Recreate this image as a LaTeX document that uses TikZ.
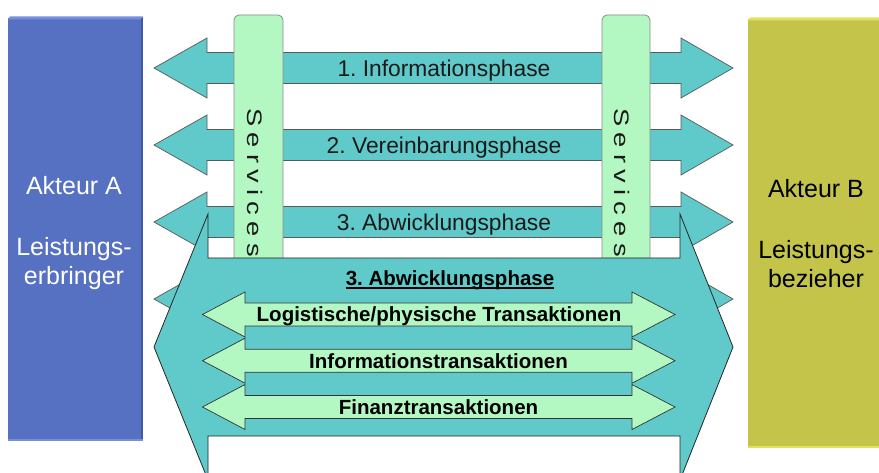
\documentclass[tikz,border=0pt]{standalone}
\usepackage{fontspec}
\usepackage{graphicx}
\setmainfont{Liberation Sans}
\frenchspacing

\definecolor{actorA}{HTML}{5670C2}
\definecolor{actorAlight}{HTML}{7890DC}
\definecolor{actorAdark}{HTML}{4058A6}
\definecolor{actorB}{HTML}{C4C44A}
\definecolor{actorBlight}{HTML}{E2E25A}
\definecolor{phaseteal}{HTML}{60C9C9}
\definecolor{paleleaf}{HTML}{B3F8C2}
\definecolor{inktext}{HTML}{1A1A1A}

% double-headed block arrow:
% #1 style, #2 left tip x, #3 left head base x, #4 right head base x,
% #5 right tip x, #6 centre y, #7 head half height, #8 shaft half height
\newcommand\twowayarrow[8]{%
  \filldraw[#1] (#2,#6) -- (#3,{#6-#7}) -- (#3,{#6-#8}) -- (#4,{#6-#8})
    -- (#4,{#6-#7}) -- (#5,#6) -- (#4,{#6+#7}) -- (#4,{#6+#8})
    -- (#3,{#6+#8}) -- (#3,{#6+#7}) -- cycle;}

\tikzset{
  phasearrow/.style={fill=phaseteal, draw=black!65, line width=0.7pt},
  bigarrow/.style={fill=phaseteal, draw=black!85, line width=0.8pt},
  transarrow/.style={fill=paleleaf, draw=black!80, line width=0.7pt},
  servicebar/.style={fill=paleleaf, draw=black!45, line width=0.8pt, rounded corners=5pt},
  phaselabel/.style={anchor=base, inner sep=0pt, text=inktext,
    font=\fontsize{22.8}{26}\selectfont},
  translabel/.style={anchor=base, inner sep=0pt, text=black,
    font=\fontsize{20.5}{24}\selectfont\bfseries},
  servicelabel/.style={rotate=-90, inner sep=0pt, text=inktext,
    font=\fontsize{21}{24}\selectfont},
  actorlabel/.style={anchor=north, inner sep=0pt, align=center,
    font=\fontsize{25}{29}\selectfont},
}

% widened, letter-spaced "Services" set along the bars
\newcommand\spacedservices{\scalebox{1.3}[1]{S\kern4.8pt e\kern4.8pt r\kern4.8pt v\kern4.8pt i\kern4.8pt c\kern4.8pt e\kern4.8pt s}}

\begin{document}
\begin{tikzpicture}[x=1pt,y=-1pt]
\useasboundingbox (0,0) rectangle (879,473);
\clip (0,0) rectangle (879,473);
\fill[white] (0,0) rectangle (879,473);

% Akteur A
\fill[actorA] (8,18) rectangle (143,440);
\fill[actorAlight] (10,16.5) -- (143,16.5) -- (143,19.5) -- (8,19.5) -- cycle;
\fill[actorAdark] (140.5,18) rectangle (143,440);
\fill[actorAlight] (8,438.5) rectangle (143,440.5);
\node[actorlabel, text=white] (akteurA) at (74,176.5)
  {Akteur A\\[32pt]Leistungs-\\erbringer};

% Akteur B
\fill[actorB] (748,19) rectangle (879,447);
\fill[actorBlight] (750,17.5) -- (879,17.5) -- (879,20.5) -- (748,20.5) -- cycle;
\fill[actorBlight] (748,445.5) rectangle (879,447.5);
\node[actorlabel, text=black] (akteurB) at (816,179.5)
  {Akteur B\\[32pt]Leistungs-\\bezieher};

% the four phase arrows between the actors
\twowayarrow{phasearrow}{154}{207}{681}{733}{68}{30}{15.5}
\twowayarrow{phasearrow}{154}{207}{681}{733}{145}{30}{15.5}
\twowayarrow{phasearrow}{154}{207}{681}{733}{222}{30}{15.5}
\twowayarrow{phasearrow}{154}{207}{681}{733}{299}{30}{15.5}

% service bars crossing the phase arrows
\filldraw[servicebar] (234,320) -- (234,15) -- (283,15) -- (283,320);
\filldraw[servicebar] (602,320) -- (602,15) -- (650,15) -- (650,320);
\node[servicelabel] (servicesA) at (255.5,182.5) {\spacedservices};
\node[servicelabel] (servicesB) at (622.5,182.5) {\spacedservices};

\node[phaselabel] (phase1) at (444,77) {1. Informationsphase};
\node[phaselabel] (phase2) at (444,153.5) {2. Vereinbarungsphase};
\node[phaselabel] (phase3) at (444,230.5) {3. Abwicklungsphase};

% enlarged execution phase
\twowayarrow{bigarrow}{154}{208}{680}{733}{347}{133}{89}
\node[translabel] (execphase) at (450,285.7) {3. Abwicklungsphase};
\draw[line width=1.3pt] ([yshift=-2.3pt]execphase.base west) -- ([yshift=-2.3pt]execphase.base east);

% transaction arrows
\twowayarrow{transarrow}{202.5}{245}{632}{675}{314.5}{22.5}{11.5}
\twowayarrow{transarrow}{202.5}{245}{632}{675}{360.7}{22.5}{11.5}
\twowayarrow{transarrow}{202.5}{245}{632}{675}{407}{22.5}{11.5}
\node[translabel] (logistik) at (439,321.7) {Logistische/physische Transaktionen};
\node[translabel] (infotrans) at (438.5,368) {Informationstransaktionen};
\node[translabel] (finanz) at (438.5,414) {Finanztransaktionen};
\end{tikzpicture}
\end{document}
